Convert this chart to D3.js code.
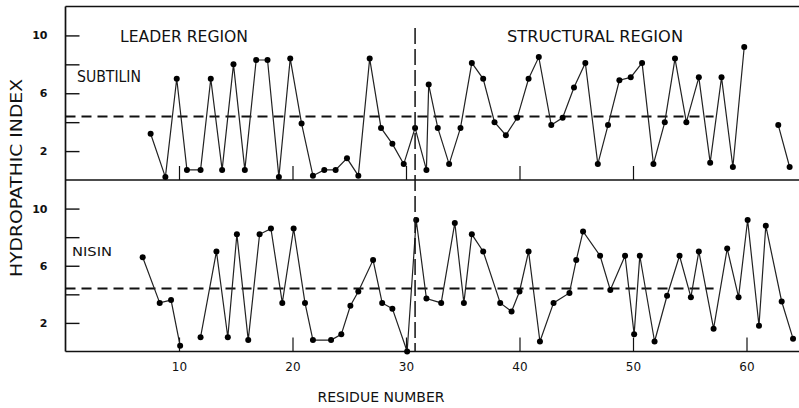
<!DOCTYPE html>
<html>
<head>
<meta charset="utf-8">
<script src="https://cdn.jsdelivr.net/npm/d3@7"></script>
<style>
  html, body { margin: 0; padding: 0; background: #fff; }
  svg text { font-family: "DejaVu Sans", "Liberation Sans", sans-serif; fill: #111; }
</style>
</head>
<body>
<svg id="chart" width="799" height="408"></svg>
<script>
// Hydropathic index profiles of the two prepeptides.
// Residue positions as plotted along the x axis; null marks a break in the trace.
const subtilinResidue = [7.5, 8.8, 9.8, 10.7, 11.9, 12.8, 13.8, 14.8, 15.8, 16.8,
  17.8, 18.8, 19.8, 20.8, 21.8, 22.8, 23.8, 24.8, 25.8, 26.8,
  27.8, 28.8, 29.8, 30.8, 31.8, 32.0, 32.8, 33.8, 34.8, 35.8,
  36.8, 37.8, 38.8, 39.8, 40.8, 41.7, 42.8, 43.8, 44.8, 45.8,
  46.9, 47.8, 48.8, 49.8, 50.8, 51.8, 52.8, 53.7, 54.7, 55.8,
  56.8, 57.8, 58.8, 59.8, 60.8, 61.8, 62.8, 63.8];
const subtilinIndex = [3.2, 0.2, 7.0, 0.7, 0.7, 7.0, 0.7, 8.0, 0.7, 8.3,
  8.3, 0.2, 8.4, 3.9, 0.3, 0.7, 0.7, 1.5, 0.3, 8.4,
  3.6, 2.5, 1.1, 3.6, 0.7, 6.6, 3.6, 1.1, 3.6, 8.1,
  7.0, 4.0, 3.1, 4.3, 7.0, 8.5, 3.8, 4.3, 6.4, 8.1,
  1.1, 3.8, 6.9, 7.1, 8.1, 1.1, 4.0, 8.4, 4.0, 7.1,
  1.2, 7.1, 0.9, 9.2, null, null, 3.8, 0.9];

const nisinResidue = [6.8, 8.3, 9.3, 10.1, 11.0, 11.9, 13.3, 14.3, 15.1, 16.1,
  17.1, 18.1, 19.1, 20.1, 21.1, 21.8, 23.4, 24.3, 25.1, 25.8,
  27.1, 27.9, 28.8, 30.1, 30.9, 31.8, 33.1, 34.3, 35.1, 35.8,
  36.8, 38.3, 39.3, 40.0, 40.8, 41.8, 43.0, 44.4, 45.0, 45.6,
  47.1, 48.0, 49.3, 50.1, 50.6, 51.9, 53.0, 54.1, 55.1, 55.8,
  57.1, 58.3, 59.3, 60.1, 61.1, 61.7, 63.1, 64.1];
const nisinIndex = [6.6, 3.4, 3.6, 0.4, null, 1.0, 7.0, 1.0, 8.2, 0.8,
  8.2, 8.6, 3.4, 8.6, 3.4, 0.8, 0.8, 1.2, 3.2, 4.2,
  6.4, 3.4, 3.0, 0.0, 9.2, 3.7, 3.4, 9.0, 3.4, 8.2,
  7.0, 3.4, 2.8, 4.2, 7.0, 0.7, 3.4, 4.1, 6.4, 8.4,
  6.7, 4.3, 6.7, 1.2, 6.7, 0.7, 3.9, 6.7, 3.8, 7.0,
  1.6, 7.2, 3.8, 9.2, 1.8, 8.8, 3.5, 0.9];

// Average hydropathy reference level and the leader/structural boundary
const averageIndex = 4.4;
const averageEnd = 57.1;
const regionBoundary = 30.8;

const xTicks = [10, 20, 30, 40, 50, 60];
const yTicks = [2, 4, 6, 8, 10];
const yTickLabels = [10, 6, 2];
const panelNames = ["SUBTILIN", "NISIN"];
const regionNames = ["LEADER REGION", "STRUCTURAL REGION"];
const xTitle = "RESIDUE NUMBER";
const yTitle = "HYDROPATHIC INDEX";

const svg = d3.select("#chart");
const left = 65.5, right = 799;
const x = d3.scaleLinear().domain([0, 60]).range([left, 746.5]);

const panels = [
  { name: panelNames[0], residue: subtilinResidue, index: subtilinIndex,
    y: d3.scaleLinear().domain([0, 12]).range([180, 6.5]), ticks: [10, 20, 30, 40, 50],
    nameX: 77, nameY: 82, nameLen: 64, nameSize: 15 },
  { name: panelNames[1], residue: nisinResidue, index: nisinIndex,
    y: d3.scaleLinear().domain([0, 12]).range([351.5, 180]), ticks: xTicks,
    nameX: 72, nameY: 256, nameLen: 40, nameSize: 13 }
];

// Frame: top edge, panel divider, baseline and left spine
const frame = svg.append("g").attr("stroke", "#111").attr("stroke-width", 1.7);
[6.5, 180, 351.5].forEach(yy =>
  frame.append("line").attr("x1", left).attr("x2", right).attr("y1", yy).attr("y2", yy));
frame.append("line").attr("x1", left).attr("x2", left).attr("y1", 6.5).attr("y2", 351.5);

panels.forEach(p => {
  const g = svg.append("g");

  // left axis: inward ticks every 2 units, sparse labels
  const ya = d3.axisLeft(p.y).tickValues(yTicks).tickSize(-14).tickPadding(18)
    .tickFormat(d => yTickLabels.includes(d) ? d : "");
  const yg = g.append("g").attr("transform", `translate(${left},0)`).call(ya);
  yg.select(".domain").remove();
  yg.selectAll(".tick line").attr("stroke", "#111").attr("stroke-width", 1.4);
  yg.selectAll(".tick text").attr("font-size", 11).attr("font-weight", "bold")
    .attr("fill", "#111");

  // short upward residue ticks on each panel's baseline
  const xa = d3.axisBottom(x).tickValues(p.ticks).tickSize(-14).tickFormat("");
  const xg = g.append("g").attr("transform", `translate(0,${p.y(0)})`).call(xa);
  xg.select(".domain").remove();
  xg.selectAll(".tick line").attr("stroke", "#111").attr("stroke-width", 1.2);

  // average level
  g.append("line")
    .attr("x1", left).attr("x2", x(averageEnd))
    .attr("y1", p.y(averageIndex)).attr("y2", p.y(averageIndex))
    .attr("stroke", "#111").attr("stroke-width", 2).attr("stroke-dasharray", "10,6");

  // hydropathy trace
  const pts = p.residue.map((r, i) => ({ r, v: p.index[i] }));
  const line = d3.line().defined(d => d.v !== null).x(d => x(d.r)).y(d => p.y(d.v));
  g.append("path").datum(pts).attr("d", line)
    .attr("fill", "none").attr("stroke", "#222").attr("stroke-width", 1.2);
  g.selectAll("circle").data(pts.filter(d => d.v !== null)).join("circle")
    .attr("cx", d => x(d.r)).attr("cy", d => p.y(d.v)).attr("r", 3)
    .attr("fill", "#000");

  g.append("text").attr("x", p.nameX).attr("y", p.nameY)
    .attr("font-size", p.nameSize).attr("textLength", p.nameLen)
    .attr("lengthAdjust", "spacingAndGlyphs").text(p.name);
});

// leader / structural boundary
svg.append("line")
  .attr("x1", x(regionBoundary)).attr("x2", x(regionBoundary))
  .attr("y1", 28).attr("y2", 351.5)
  .attr("stroke", "#111").attr("stroke-width", 1.5).attr("stroke-dasharray", "16,5");

svg.append("text").attr("x", 120).attr("y", 42).attr("font-size", 16)
  .attr("textLength", 128).attr("lengthAdjust", "spacingAndGlyphs").text(regionNames[0]);
svg.append("text").attr("x", 507).attr("y", 42).attr("font-size", 16)
  .attr("textLength", 176).attr("lengthAdjust", "spacingAndGlyphs").text(regionNames[1]);

// residue number labels below the baseline
const xl = d3.axisBottom(x).tickValues(xTicks).tickSize(0).tickPadding(11);
const xlg = svg.append("g").attr("transform", "translate(0,351.5)").call(xl);
xlg.select(".domain").remove();
xlg.selectAll(".tick text").attr("font-size", 12).attr("fill", "#111");

svg.append("text").attr("x", 381).attr("y", 402).attr("text-anchor", "middle")
  .attr("font-size", 14).attr("textLength", 127).attr("lengthAdjust", "spacingAndGlyphs")
  .text(xTitle);

svg.append("text").attr("transform", "translate(22,178) rotate(-90)")
  .attr("text-anchor", "middle").attr("font-size", 15)
  .attr("textLength", 198).attr("lengthAdjust", "spacingAndGlyphs").text(yTitle);
</script>
</body>
</html>
